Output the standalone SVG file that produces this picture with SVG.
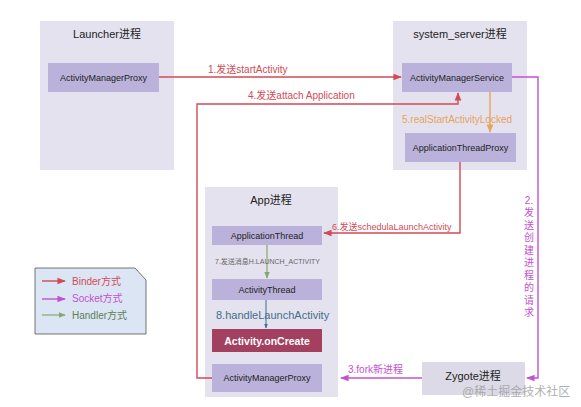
<svg xmlns="http://www.w3.org/2000/svg" width="581" height="407" viewBox="0 0 581 407">
<style>
text{font-family:"Liberation Sans","Noto Sans CJK SC",sans-serif}
.proc{fill:#e5e2ef}
.inner{fill:#bab2da}
.title{font-size:11px;fill:#222;text-anchor:middle}
.lbl{font-size:9px;fill:#222;text-anchor:middle}
.red{stroke:#d24a55;stroke-width:1.4;fill:none}
.pur{stroke:#c252d0;stroke-width:1.4;fill:none}
.grn{stroke:#86a870;stroke-width:1.2;fill:none}
.blu{stroke:#3f6f8a;stroke-width:1;fill:none}
.org{stroke:#e8a25a;stroke-width:1.4;fill:none}
.tred{fill:#d24a55;font-size:10px}
.tpur{fill:#c252d0;font-size:10px}
</style>
<defs>
<marker id="ar" viewBox="0 0 10 10" refX="9" refY="5" markerWidth="6" markerHeight="6" orient="auto"><path d="M0,1 L10,5 L0,9 z" fill="#d24a55"/></marker>
<marker id="ap" viewBox="0 0 10 10" refX="9" refY="5" markerWidth="6" markerHeight="6" orient="auto"><path d="M0,1 L10,5 L0,9 z" fill="#c252d0"/></marker>
<marker id="ag" viewBox="0 0 10 10" refX="9" refY="5" markerWidth="6" markerHeight="6" orient="auto"><path d="M0,1 L10,5 L0,9 z" fill="#86a870"/></marker>
<marker id="ao" viewBox="0 0 10 10" refX="9" refY="5" markerWidth="6" markerHeight="6" orient="auto"><path d="M0,1 L10,5 L0,9 z" fill="#e8a25a"/></marker>
<marker id="ab" viewBox="0 0 10 10" refX="9" refY="5" markerWidth="5" markerHeight="5" orient="auto"><path d="M0,1 L10,5 L0,9 z" fill="#3f6f8a"/></marker>
</defs>
<rect width="581" height="407" fill="#ffffff"/>

<g id="launcher">
<rect class="proc" x="40" y="21" width="134" height="149"/>
<text class="title" x="107" y="38">Launcher进程</text>
<rect class="inner" x="48" y="63" width="111" height="29"/>
<text class="lbl" x="103.5" y="81">ActivityManagerProxy</text>
</g>

<g id="system_server">
<rect class="proc" x="393" y="21" width="134" height="149"/>
<text class="title" x="460" y="38">system_server进程</text>
<rect class="inner" x="402" y="63" width="110" height="29"/>
<text class="lbl" x="457" y="81">ActivityManagerService</text>
<rect class="inner" x="405" y="133" width="111" height="29"/>
<text class="lbl" x="460.5" y="151">ApplicationThreadProxy</text>
</g>

<g id="app">
<rect class="proc" x="205" y="187" width="133" height="210"/>
<text class="title" x="271" y="204">App进程</text>
<rect class="inner" x="212" y="226" width="110" height="19"/>
<text class="lbl" x="267" y="239">ApplicationThread</text>
<rect class="inner" x="212" y="279" width="110" height="21"/>
<text class="lbl" x="267" y="293">ActivityThread</text>
<rect x="212" y="329" width="110" height="23" fill="#a3405f"/>
<text x="267" y="345" font-size="10.5" font-weight="bold" fill="#ffffff" text-anchor="middle">Activity.onCreate</text>
<rect class="inner" x="212" y="364" width="110" height="28"/>
<text class="lbl" x="267" y="381">ActivityManagerProxy</text>
</g>

<g id="zygote">
<rect x="422" y="362" width="103" height="33" fill="#dddae7"/>
<text x="473" y="380" font-size="11" fill="#222" text-anchor="middle">Zygote进程</text>
</g>

<g id="connectors">
<path class="red" d="M159,77 H401" marker-end="url(#ar)"/>
<text class="tred" x="208" y="73">1.发送startActivity</text>

<path class="pur" d="M512,77 H538 V378 H527" marker-end="url(#ap)"/>
<g class="tpur" text-anchor="middle">
<text x="529" y="204">2.</text>
<text x="529" y="216">发</text>
<text x="529" y="229">送</text>
<text x="529" y="241">创</text>
<text x="529" y="254">建</text>
<text x="529" y="266">进</text>
<text x="529" y="279">程</text>
<text x="529" y="291">的</text>
<text x="529" y="304">请</text>
<text x="529" y="316">求</text>
</g>

<path class="pur" d="M422,378 H341" marker-end="url(#ap)"/>
<text class="tpur" x="348" y="373">3.fork新进程</text>

<path class="red" d="M212,378 H197 V104 H458 V93" marker-end="url(#ar)"/>
<text class="tred" x="248" y="99">4.发送attach Application</text>

<path class="org" d="M490,92 V132" marker-end="url(#ao)"/>
<text x="402" y="123" font-size="10" fill="#e8a25a">5.realStartActivityLocked</text>

<path class="red" d="M460,162 V233 H324" marker-end="url(#ar)"/>
<text class="tred" x="332" y="230" style="font-size:9px">6.发送schedulaLaunchActivity</text>

<path class="grn" d="M267,245 V278" marker-end="url(#ag)"/>
<text x="215" y="264" font-size="7" fill="#666">7.发送消息H.LAUNCH_ACTIVITY</text>

<path class="blu" d="M266,300 V328" marker-end="url(#ab)"/>
<text x="216" y="319" font-size="11" fill="#3f6f8a">8.handleLaunchActivity</text>
</g>

<g id="legend">
<path d="M35,268 H135 L146,280 V334 H35 Z" fill="#dbe5f3" stroke="#555" stroke-width="0.8"/>
<path class="red" d="M42,281 H65" marker-end="url(#ar)"/>
<text class="tred" x="72" y="285">Binder方式</text>
<path class="pur" d="M42,299 H65" marker-end="url(#ap)"/>
<text class="tpur" x="72" y="302">Socket方式</text>
<path class="grn" d="M42,315 H65" marker-end="url(#ag)"/>
<text x="72" y="319" font-size="10" fill="#5e7d55">Handler方式</text>
</g>

<text x="462" y="396" font-size="12" fill="#9a9a9a" fill-opacity="0.8">@稀土掘金技术社区</text>
</svg>
